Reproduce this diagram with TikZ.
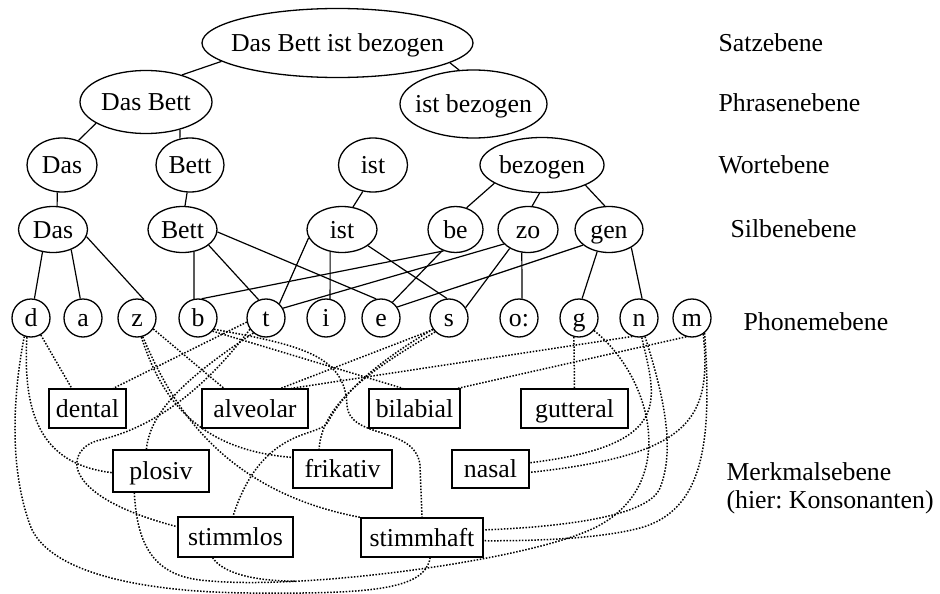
\documentclass[tikz,border=0pt]{standalone}
\usepackage{fontspec}
\setmainfont{Liberation Serif}
\usetikzlibrary{shapes.geometric}

\begin{document}
\begin{tikzpicture}[x=1pt,y=-1pt,font=\fontsize{25.8}{28}\selectfont,
  knoten/.style={draw,ellipse,inner sep=0pt,inner xsep=-80pt,text height=17pt,text depth=0pt,line width=1.3pt},
  silbe/.style={knoten,minimum height=46pt},
  phon/.style={draw,circle,inner sep=0pt,minimum size=38pt,text height=17pt,text depth=0pt,line width=1.3pt},
  merkmal/.style={draw,rectangle,inner sep=0pt,text height=17pt,text depth=0pt,line width=1.3pt},
  ebene/.style={anchor=west,text height=17pt,text depth=0pt},
  kante/.style={line width=1.2pt},
  punkt/.style={line width=1.5pt,dash pattern=on 1.5pt off 1.6pt}]

\useasboundingbox (0,0) rectangle (940,594);

\node[knoten,minimum width=271pt,minimum height=69pt] (satz) at (337.5,43) {Das Bett ist bezogen};
\node[knoten,minimum width=132pt,minimum height=63pt] (dasbett) at (146,102) {Das Bett};
\node[knoten,minimum width=147pt,minimum height=68pt] (istbez) at (473.5,104) {ist bezogen};

\node[knoten,minimum width=70pt,minimum height=54pt] (wdas) at (62,165) {Das};
\node[knoten,minimum width=68pt,minimum height=54pt] (wbett) at (190,165) {Bett};
\node[knoten,minimum width=69pt,minimum height=54pt] (wist) at (373,165) {ist};
\node[knoten,minimum width=124pt,minimum height=55pt] (wbez) at (542,165) {bezogen};

\node[silbe,minimum width=69pt] (sdas) at (53,229.5) {Das};
\node[silbe,minimum width=69pt] (sbett) at (182.5,229.5) {Bett};
\node[silbe,minimum width=70pt] (sist) at (342,229.5) {ist};
\node[silbe,minimum width=55pt] (sbe) at (455.5,229.5) {be};
\node[silbe,minimum width=60pt] (szo) at (528,229.5) {zo};
\node[silbe,minimum width=68pt] (sgen) at (609,229.5) {gen};

\node[phon] (d) at (31,318) {d};
\node[phon] (a) at (83,318) {a};
\node[phon] (z) at (137,318) {z};
\node[phon] (b) at (198,318) {b};
\node[phon] (t) at (266,318) {t};
\node[phon] (i) at (326,318) {i};
\node[phon] (e) at (381,318) {e};
\node[phon] (s) at (449,318) {s};
\node[phon] (o) at (519,318) {o:};
\node[phon] (g) at (579,318) {g};
\node[phon] (n) at (639,318) {n};
\node[phon] (m) at (692,318) {m};

\node[merkmal,minimum width=77pt,minimum height=39pt] (dental) at (87.5,408.5) {dental};
\node[merkmal,minimum width=106pt,minimum height=39pt] (alveolar) at (255,408.5) {alveolar};
\node[merkmal,minimum width=91pt,minimum height=39pt] (bilabial) at (414.5,408.5) {bilabial};
\node[merkmal,minimum width=107pt,minimum height=39pt] (gutteral) at (574.5,408.5) {gutteral};
\node[merkmal,minimum width=96pt,minimum height=42pt] (plosiv) at (161,471) {plosiv};
\node[merkmal,minimum width=99pt,minimum height=38pt] (frikativ) at (342.5,469) {frikativ};
\node[merkmal,minimum width=77pt,minimum height=38pt] (nasal) at (490.5,469) {nasal};
\node[merkmal,minimum width=115pt,minimum height=40pt] (stimmlos) at (235.5,537) {stimmlos};
\node[merkmal,minimum width=122pt,minimum height=39pt] (stimmhaft) at (422,537.5) {stimmhaft};

\node[ebene] (satzebene) at (715,43) {Satzebene};
\node[ebene] (phrasenebene) at (715,103) {Phrasenebene};
\node[ebene] (wortebene) at (715,165) {Wortebene};
\node[ebene] (silbenebene) at (727,229) {Silbenebene};
\node[ebene] (phonemebene) at (740,322) {Phonemebene};
\node[anchor=west,align=left] (merkmalsebene) at (723,488) {Merkmalsebene\\(hier:\ Konsonanten)};

\draw[kante] (satz.189) -- (dasbett.37);
\draw[kante] (satz.350) -- (istbez.113);
\draw[kante] (dasbett.203) -- (wdas.56);
\draw[kante] (dasbett.321) -- (wbett.111);

\draw[kante] (wdas.260) -- (sdas.80);
\draw[kante] (wbett.264) -- (sbett.84);
\draw[kante] (wist.249) -- (sist.64);
\draw[kante] (wbez.201) -- (sbe.63);
\draw[kante] (wbez.265) -- (szo.80);
\draw[kante] (wbez.335) -- (sgen.100);

\draw[kante] (sdas.245) -- (d.80);
\draw[kante] (sdas.312) -- (a.98);
\draw[kante] (sdas.348) -- (z.69);
\draw[kante] (sbett.297) -- (b.102);
\draw[kante] (sbett.329) -- (t.112);
\draw[kante] (sbett.356) -- (e.104);
\draw[kante] (sist.194) -- (t.47);
\draw[kante] (sist.242) -- (i.78);
\draw[kante] (sist.328) -- (s.96);
\draw[kante] (b.79) -- (sbe.241);
\draw[kante] (e.54) -- (sbe.238);
\draw[kante] (t.30) -- (szo.211);
\draw[kante] (s.32) -- (szo.226);
\draw[kante] (szo.255) -- (o.81);
\draw[kante] (e.34) -- (sgen.211);
\draw[kante] (sgen.242) -- (g.81);
\draw[kante] (sgen.321) -- (n.81);

\draw[punkt] (d.300) -- (dental.128);
\draw[punkt] (t.192) -- (dental.38);
\draw[punkt] (z.326) -- (alveolar.147);
\draw[punkt] (s.216) -- (alveolar.38);
\draw[punkt] (n.250) -- (alveolar.29);
\draw[punkt] (b.318) -- (bilabial.120);
\draw[punkt] (m.253) -- (bilabial.25);
\draw[punkt] (g.255) -- (gutteral.north);

\draw[punkt] (d.258) .. controls (22,420) and (45,465) .. (plosiv.182);
\draw[punkt] (d.250) .. controls (12,400) and (10,470) .. (30,525) .. controls (46,569) and (130,592) .. (250,593) .. controls (370,594) and (425,590) .. (stimmhaft.292);
\draw[punkt] (t.230) .. controls (190,375) and (150,410) .. (plosiv.124);
\draw[punkt] (t.215) .. controls (200,395) and (150,428) .. (100,440) .. controls (65,448) and (55,495) .. (stimmlos.170);
\draw[punkt] (z.283) .. controls (160,395) and (195,450) .. (frikativ.167);
\draw[punkt] (z.287) .. controls (168,395) and (215,490) .. (stimmhaft.north west);
\draw[punkt] (b.325) .. controls (300,345) and (345,355) .. (347,405) .. controls (349,440) and (415,425) .. (420,465) -- (stimmhaft.north);
\draw[punkt] (s.225) .. controls (380,365) and (322,400) .. (frikativ.140);
\draw[punkt] (s.215) .. controls (372,365) and (342,395) .. (328,422) .. controls (320,438) and (262,425) .. (stimmlos.97);
\draw[punkt] (g.320) .. controls (650,375) and (680,480) .. (600,525) .. controls (540,559) and (300,592) .. (200,580) coordinate[pos=0.75] (zus) .. controls (150,574) and (137,540) .. (plosiv.219);
\draw[punkt] (stimmlos.222) .. controls (222,572) and (250,581) .. (zus);
\draw[punkt] (n.278) .. controls (656,400) and (675,445) .. (nasal.9);
\draw[punkt] (m.305) .. controls (712,420) and (690,455) .. (nasal.355);
\draw[punkt] (n.288) .. controls (665,400) and (675,450) .. (660,488) .. controls (648,517) and (560,527) .. (stimmhaft.7);
\draw[punkt] (m.310) .. controls (712,440) and (705,510) .. (640,528) .. controls (595,540) and (520,541) .. (stimmhaft.357);

\end{tikzpicture}
\end{document}
